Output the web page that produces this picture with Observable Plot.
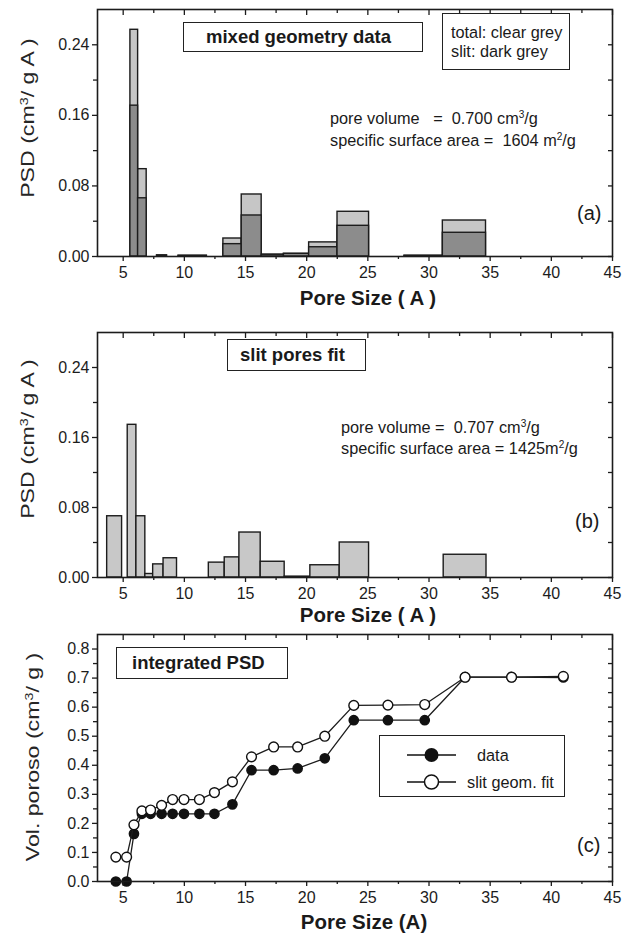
<!DOCTYPE html>
<html>
<head>
<meta charset="utf-8">
<script src="https://cdn.jsdelivr.net/npm/d3@7"></script>
<script src="https://cdn.jsdelivr.net/npm/@observablehq/plot@0.6"></script>
<style>
  body { margin: 0; background: #fff; }
  #fig { position: relative; width: 638px; height: 939px; overflow: hidden;
         font-family: "Liberation Sans", Arial, sans-serif; color: #1a1a1a; background: #fff; }
  .pnl { position: absolute; left: 0; }
  .box { position: absolute; border: 1.5px solid #222; box-sizing: border-box; background: #fff; z-index: 2; }
  .t { position: absolute; white-space: pre; line-height: normal; transform: translateY(-50%); z-index: 3; }
  .bold { font-weight: bold; font-size: 18.5px; }
  .ann { font-size: 16.3px; }
  .lab { font-size: 20px; }
  .xl { position: absolute; font-weight: bold; font-size: 20.5px; white-space: pre; transform: translate(-50%, -50%); z-index: 3; }
  .yl { position: absolute; font-weight: 400; font-size: 18.5px; color: #262626; white-space: pre; transform: translate(-50%, -50%) rotate(-90deg) scaleX(1.25); z-index: 3; }
  .sp { font-size: 0.62em; position: relative; top: -0.55em; }
</style>
</head>
<body>
<div id="fig">
  <div id="pa" class="pnl" style="top:0px"></div>
  <div id="pb" class="pnl" style="top:308px"></div>
  <div id="pc" class="pnl" style="top:628px"></div>

  <!-- panel (a) annotations -->
  <div class="box" style="left:183px;top:22px;width:240px;height:30px"></div>
  <div class="t bold" style="left:206px;top:37px">mixed geometry data</div>
  <div class="box" style="left:442px;top:13px;width:128px;height:57px"></div>
  <div class="t ann" style="left:451px;top:32px">total: clear grey</div>
  <div class="t ann" style="left:451px;top:51px">slit: dark grey</div>
  <div class="t ann" style="left:330px;top:118px">pore volume   =  0.700 cm<span class="sp">3</span>/g</div>
  <div class="t ann" style="left:330px;top:140px">specific surface area =  1604 m<span class="sp">2</span>/g</div>
  <div class="t lab" style="left:577px;top:213px">(a)</div>
  <div class="xl" style="left:368px;top:298px">Pore Size ( A )</div>
  <div class="yl" style="left:28px;top:118px">PSD (cm<span class="sp">3</span>/ g A )</div>

  <!-- panel (b) annotations -->
  <div class="box" style="left:227px;top:339px;width:139px;height:32px"></div>
  <div class="t bold" style="left:240px;top:355px">slit pores fit</div>
  <div class="t ann" style="left:341px;top:427px">pore volume =  0.707 cm<span class="sp">3</span>/g</div>
  <div class="t ann" style="left:341px;top:448px">specific surface area = 1425m<span class="sp">2</span>/g</div>
  <div class="t lab" style="left:575px;top:521px">(b)</div>
  <div class="xl" style="left:368px;top:615px">Pore Size ( A )</div>
  <div class="yl" style="left:28px;top:439px">PSD (cm<span class="sp">3</span>/ g A )</div>

  <!-- panel (c) annotations -->
  <div class="box" style="left:116px;top:647px;width:172px;height:32px"></div>
  <div class="t bold" style="left:132px;top:663px">integrated PSD</div>
  <div class="box" style="left:379px;top:735px;width:186px;height:62px"></div>
  <svg style="position:absolute;left:379px;top:735px;z-index:3" width="186" height="62">
    <line x1="28" x2="77" y1="20" y2="20" stroke="#111" stroke-width="1.3"/>
    <circle cx="52.5" cy="20" r="7" fill="#111"/>
    <line x1="28" x2="77" y1="47" y2="47" stroke="#111" stroke-width="1.3"/>
    <circle cx="52.5" cy="47" r="7" fill="#fff" stroke="#111" stroke-width="1.5"/>
  </svg>
  <div class="t ann" style="left:477px;top:755px">data</div>
  <div class="t ann" style="left:467px;top:782px">slit geom. fit</div>
  <div class="t lab" style="left:577px;top:845px">(c)</div>
  <div class="xl" style="left:364px;top:922px">Pore Size (A)</div>
  <div class="yl" style="left:33px;top:757px">Vol. poroso (cm<span class="sp">3</span>/ g )</div>
</div>

<script>
// ---------- Panel (a): mixed geometry data (bins in Å) ----------
const aBinStart = [5.59, 6.22, 7.77, 9.53, 13.19, 14.69, 16.32, 18.14, 20.2, 22.52, 28.0, 31.13];
const aBinEnd   = [6.22, 6.92, 8.58, 11.84, 14.69, 16.32, 18.14, 20.2, 22.52, 25.1, 31.13, 34.66];
const aTotal    = [0.257, 0.099, 0.0012, 0.0008, 0.0204, 0.0703, 0.002, 0.003, 0.016, 0.0507, 0.0008, 0.0408];
const aSlit     = [0.171, 0.066, 0.0012, 0.0008, 0.014, 0.0465, 0.002, 0.003, 0.0105, 0.0348, 0.0008, 0.0269];

// ---------- Panel (b): slit pores fit ----------
const bBinStart = [3.69, 5.37, 6.08, 6.81, 7.45, 8.3, 12.0, 13.3, 14.5, 16.24, 18.2, 20.3, 22.7, 31.2];
const bBinEnd   = [4.91, 6.08, 6.81, 7.45, 8.3, 9.4, 13.3, 14.5, 16.24, 18.2, 20.3, 22.7, 25.1, 34.7];
const bSlit     = [0.070, 0.1745, 0.070, 0.004, 0.015, 0.022, 0.017, 0.023, 0.0514, 0.018, 0.001, 0.014, 0.040, 0.026];

// ---------- Panel (c): integrated PSD ----------
const poreSize = [4.40, 5.28, 5.88, 6.53, 7.24, 8.14, 9.04, 9.97, 11.23, 12.46, 13.93, 15.49, 17.30, 19.26, 21.48, 23.85, 26.64, 29.65, 32.95, 36.75, 40.98];
const cumData  = [0, 0, 0.164, 0.233, 0.233, 0.233, 0.233, 0.233, 0.233, 0.233, 0.2655, 0.383, 0.383, 0.389, 0.424, 0.555, 0.555, 0.555, 0.703, 0.703, 0.702];
const cumFit   = [0.084, 0.084, 0.195, 0.243, 0.246, 0.262, 0.282, 0.282, 0.282, 0.306, 0.343, 0.429, 0.463, 0.463, 0.500, 0.606, 0.607, 0.609, 0.703, 0.703, 0.706];

// ---------- Axes ticks ----------
const xMajor = [5, 10, 15, 20, 25, 30, 35, 40, 45];
const xMinor = [7.5, 12.5, 17.5, 22.5, 27.5, 32.5, 37.5, 42.5];
const psdMajor = [0, 0.08, 0.16, 0.24];
const psdMinor = [0.04, 0.12, 0.20];
const volMajor = [0, 0.1, 0.2, 0.3, 0.4, 0.5, 0.6, 0.7, 0.8];
const volMinor = [0.05, 0.15, 0.25, 0.35, 0.45, 0.55, 0.65, 0.75];

const INK = "#1c1c1c";
const FONT = "'Liberation Sans', Arial, sans-serif";
const none = () => "";

function axesMarks(yMajor, yMinor, yFmt) {
  return [
    Plot.frame({stroke: INK, strokeWidth: 1.6}),
    Plot.axisX({anchor: "bottom", ticks: xMajor, tickSize: 5, tickPadding: 5, strokeWidth: 1.3, fontSize: 16, fill: INK, stroke: INK, label: null}),
    Plot.axisX({anchor: "bottom", ticks: xMinor, tickSize: 3, strokeWidth: 1.3, stroke: INK, tickFormat: none, label: null}),
    Plot.axisX({anchor: "top", ticks: xMajor, tickSize: 5, dy: 5, strokeWidth: 1.3, stroke: INK, tickFormat: none, label: null}),
    Plot.axisX({anchor: "top", ticks: xMinor, tickSize: 3, dy: 3, strokeWidth: 1.3, stroke: INK, tickFormat: none, label: null}),
    Plot.axisY({anchor: "left", ticks: yMajor, tickSize: 5, tickPadding: 3, strokeWidth: 1.3, fontSize: 16, fill: INK, stroke: INK, tickFormat: yFmt, label: null}),
    Plot.axisY({anchor: "left", ticks: yMinor, tickSize: 4, strokeWidth: 1.3, stroke: INK, tickFormat: none, label: null}),
    Plot.axisY({anchor: "right", ticks: yMajor.concat(yMinor), tickSize: 5, dx: -5, strokeWidth: 1.3, stroke: INK, tickFormat: none, label: null})
  ];
}

function makePlot({height, marginTop, marginBottom, yDomain, marks}) {
  return Plot.plot({
    width: 638, height, marginLeft: 97, marginRight: 26, marginTop, marginBottom,
    style: {fontFamily: FONT, fontSize: "16px", color: INK, background: "transparent", overflow: "visible"},
    x: {domain: [2.9, 45], label: null},
    y: {domain: yDomain, label: null},
    marks
  });
}

// Panel (a)
const aTable = aBinStart.map((x1, i) => ({x1, x2: aBinEnd[i], total: aTotal[i], slit: aSlit[i]}));
document.getElementById("pa").append(makePlot({
  height: 308, marginTop: 9, marginBottom: 52, yDomain: [0, 0.28],
  marks: [
    Plot.rectY(aTable, {x1: "x1", x2: "x2", y: "total", fill: "#c6c6c6", stroke: INK, strokeWidth: 1.4}),
    Plot.rectY(aTable, {x1: "x1", x2: "x2", y: "slit", fill: "#8c8c8c", stroke: INK, strokeWidth: 1.4}),
    ...axesMarks(psdMajor, psdMinor, d3.format(".2f"))
  ]
}));

// Panel (b)
const bTable = bBinStart.map((x1, i) => ({x1, x2: bBinEnd[i], slit: bSlit[i]}));
document.getElementById("pb").append(makePlot({
  height: 320, marginTop: 24, marginBottom: 51, yDomain: [0, 0.28],
  marks: [
    Plot.rectY(bTable, {x1: "x1", x2: "x2", y: "slit", fill: "#c8c8c8", stroke: INK, strokeWidth: 1.4}),
    ...axesMarks(psdMajor, psdMinor, d3.format(".2f"))
  ]
}));

// Panel (c)
const cTable = poreSize.map((p, i) => ({p, data: cumData[i], fit: cumFit[i]}));
document.getElementById("pc").append(makePlot({
  height: 311, marginTop: 6, marginBottom: 58, yDomain: [0, 0.85],
  marks: [
    Plot.line(cTable, {x: "p", y: "data", stroke: INK, strokeWidth: 1.3}),
    Plot.dot(cTable, {x: "p", y: "data", r: 4.6, fill: "#111", stroke: "#111"}),
    Plot.line(cTable, {x: "p", y: "fit", stroke: INK, strokeWidth: 1.3}),
    Plot.dot(cTable, {x: "p", y: "fit", r: 4.9, fill: "#fff", stroke: "#111", strokeWidth: 1.4}),
    ...axesMarks(volMajor, volMinor, d3.format(".1f"))
  ]
}));
</script>
</body>
</html>
